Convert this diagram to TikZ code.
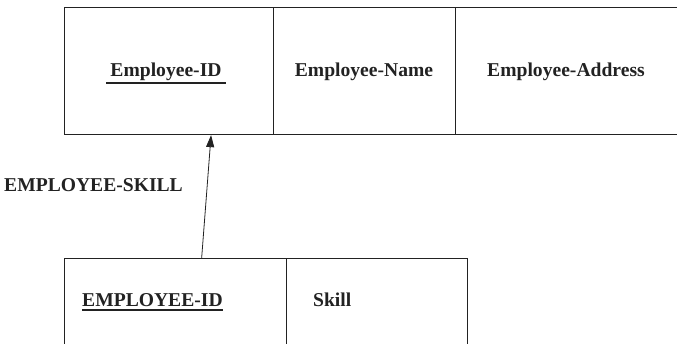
\documentclass[tikz,border=0pt]{standalone}
\usepackage{fontspec}
\setmainfont{Liberation Serif}
\usetikzlibrary{calc,arrows.meta}
\definecolor{ink}{HTML}{222222}
\begin{document}
\begin{tikzpicture}[x=1pt,y=-1pt,
  cell/.style={draw=ink,line width=1.1pt,rectangle,inner sep=0pt,anchor=north west},
  lbl/.style={text=ink,font=\bfseries\fontsize{19.6}{23}\selectfont,inner sep=0pt,anchor=base},
  uline/.style={draw=ink,line width=1.6pt},
  link/.style={draw=ink,line width=0.8pt,-{Triangle[length=12pt,width=8pt]}}]
\useasboundingbox (0,0) rectangle (677,344);
% EMPLOYEE relation
\node[cell,minimum width=209pt,minimum height=127pt] (tid) at (64,7) {};
\node[cell,minimum width=182pt,minimum height=127pt] (tname) at (273,7) {};
\node[cell,minimum width=240pt,minimum height=127pt] (taddr) at (455,7) {};
\node[lbl] (tidtext) at (166,77) {Employee-ID};
\node[lbl] (tnametext) at (364,77) {Employee-Name};
\node[lbl] (taddrtext) at (566,77) {Employee-Address};
\draw[uline] ($(tidtext.base west)+(-4,6)$) -- ($(tidtext.base east)+(4,6)$);
% EMPLOYEE-SKILL relation
\node[lbl,anchor=base west] (rel) at (4,192) {EMPLOYEE-SKILL};
\node[cell,minimum width=222pt,minimum height=110pt] (bid) at (64,258) {};
\node[cell,minimum width=181pt,minimum height=110pt] (bskill) at (286,258) {};
\node[lbl,anchor=base west] (bidtext) at (82,307) {EMPLOYEE-ID};
\node[lbl,anchor=base west] (bskilltext) at (313,307) {Skill};
\draw[uline] ($(bidtext.base west)+(0,3)$) -- ($(bidtext.base east)+(0,3)$);
% foreign key reference
\draw[link] ($(bid.north west)!0.617!(bid.north east)$) -- ($(tid.south west)!0.70!(tid.south east)$);
\end{tikzpicture}
\end{document}
